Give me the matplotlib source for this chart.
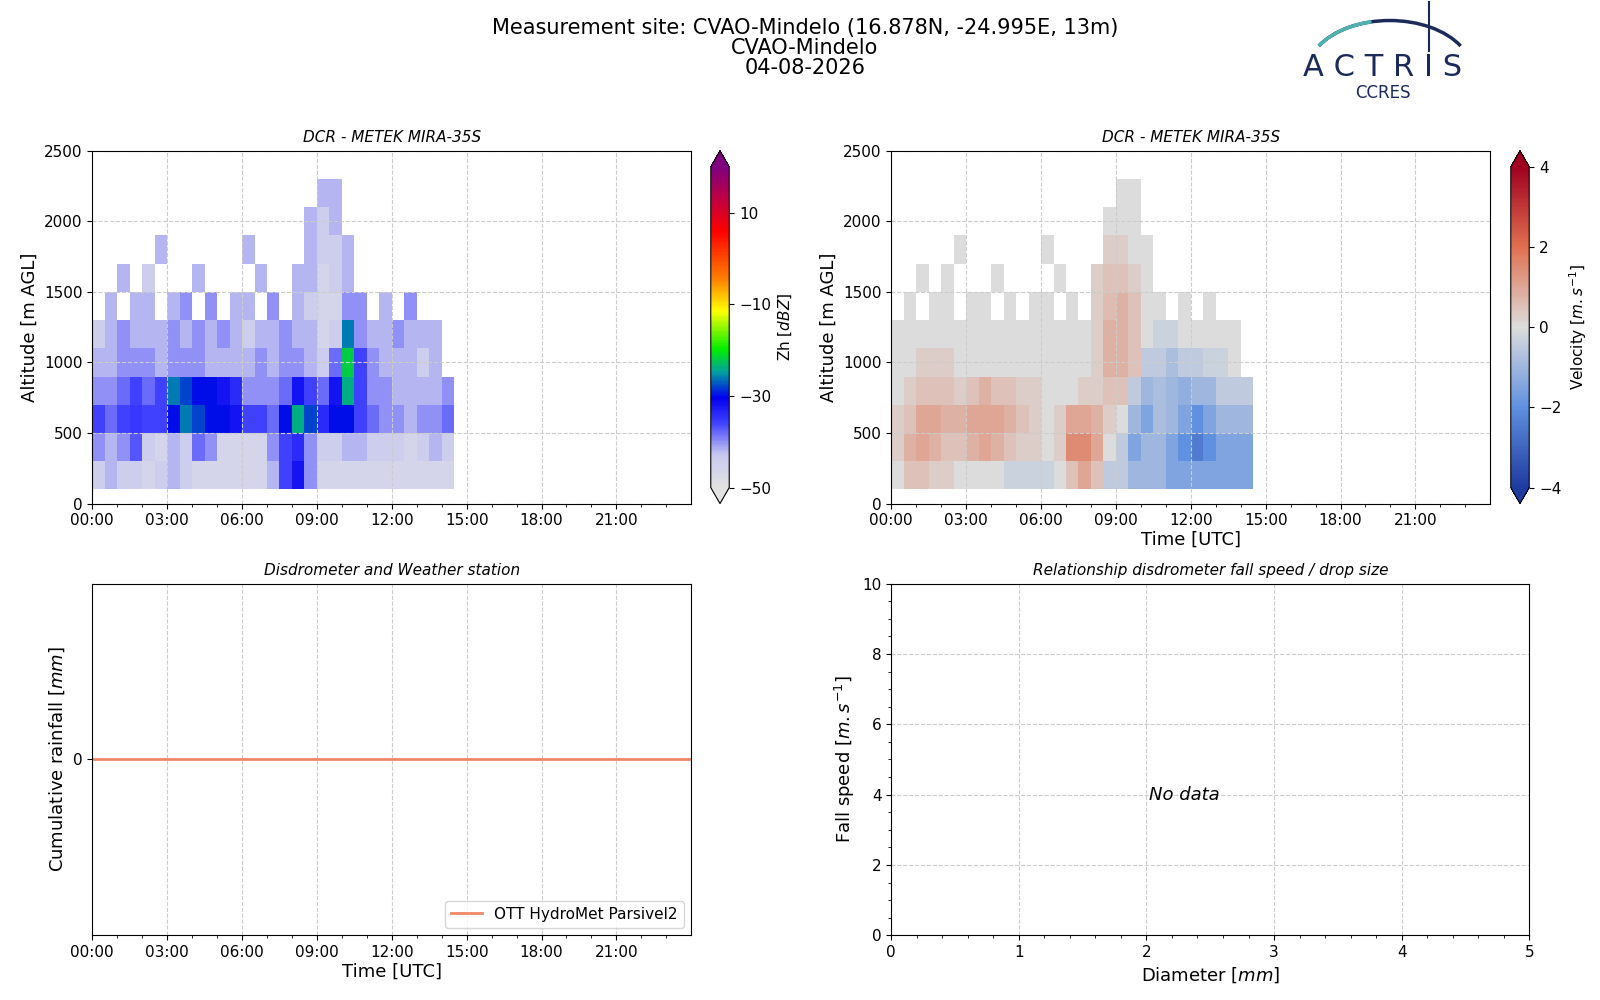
import numpy as np
import matplotlib.pyplot as plt
from matplotlib.colors import LinearSegmentedColormap
from matplotlib.patches import Arc

N = np.nan

# radar grid: 30 min time bins from 00:00 to 14:30, 200 m altitude bins 100..2500 m
time_edges = np.arange(0, 15.0, 0.5)
alt_edges = np.arange(100, 2600, 200)

zh = np.array([
    [-44, -42, -44, -44, -46, -44, -42, -44, -46, -46, -46, -46, -46, -46, -42, -36, -32, -40, -46, -46, -46, -46, -46, -46, -46, -46, -46, -46, -46],
    [-40, -42, -40, -37, -44, -46, -42, -44, -38, -40, -46, -46, -46, -46, -40, -36, -34, -40, -44, -44, -42, -42, -44, -44, -44, -46, -44, -42, -44],
    [-36, -38, -36, -35, -36, -36, -30, -26, -28, -30, -30, -32, -36, -36, -38, -30, -24, -28, -34, -30, -30, -36, -38, -40, -40, -42, -40, -40, -38],
    [-40, -40, -38, -36, -38, -36, -26, -28, -30, -30, -32, -34, -40, -40, -40, -38, -32, -36, -38, -32, -24, -36, -40, -40, -42, -42, -42, -42, -40],
    [-42, -42, -40, -40, -40, -42, -40, -40, -40, -42, -42, -42, -42, -40, -42, -40, -40, -42, -44, -38, -22, -36, -40, -42, -42, -42, -44, -42, N],
    [-44, -42, -40, -42, -42, -42, -40, -42, -40, -42, -40, -42, -44, -42, -42, -40, -42, -42, -46, -44, -26, -40, -42, -42, -40, -42, -42, -42, N],
    [N, -42, N, -42, -42, N, -42, -40, N, -40, N, -42, -42, N, -40, N, -42, -44, -46, -46, -40, -40, N, -42, N, -40, N, N, N],
    [N, N, -42, N, -44, N, N, N, -42, N, N, N, N, -42, N, N, -42, -42, -46, -44, -42, N, N, N, N, N, N, N, N],
    [N, N, N, N, N, -42, N, N, N, N, N, N, -42, N, N, N, N, -42, -44, -44, -42, N, N, N, N, N, N, N, N],
    [N, N, N, N, N, N, N, N, N, N, N, N, N, N, N, N, N, -42, -44, -42, N, N, N, N, N, N, N, N, N],
    [N, N, N, N, N, N, N, N, N, N, N, N, N, N, N, N, N, N, -42, -42, N, N, N, N, N, N, N, N, N],
    [N, N, N, N, N, N, N, N, N, N, N, N, N, N, N, N, N, N, N, N, N, N, N, N, N, N, N, N, N],
])

vel = np.array([
    [0, 0.5, 0.5, 0.3, 0.3, 0, 0, 0, 0, -0.3, -0.3, -0.3, -0.3, 0, 0.5, 1, 0.5, -0.5, -0.5, -1, -1, -1, -1.5, -1.5, -1.5, -1.5, -1.5, -1.5, -1.5],
    [0.3, 0.8, 1, 0.8, 0.5, 0.5, 0.8, 1, 0.8, 0.5, 0.3, 0.3, 0, 0.3, 1.5, 1.5, 1, 0, -0.5, -1.5, -1, -1, -1.5, -2, -2.5, -2, -1.5, -1.5, -1.5],
    [0.3, 0.5, 1, 1, 0.8, 0.8, 1, 1, 1, 0.8, 0.5, 0.3, 0, 0.3, 1, 1, 0.8, 0.3, 0, -1, -1.5, -0.8, -1, -1.5, -2, -1.5, -1, -1, -1],
    [0, 0.3, 0.5, 0.5, 0.5, 0.3, 0.5, 0.8, 0.5, 0.5, 0.3, 0.3, 0, 0, 0, 0.3, 0.3, 0.5, 0.5, -0.5, -1, -0.8, -1, -1.2, -1, -1, -0.5, -0.5, -0.5],
    [0, 0, 0.3, 0.3, 0.3, 0, 0, 0, 0, 0, 0, 0, 0, 0, 0, 0, 0.3, 0.8, 0.8, 0.5, -0.5, -0.5, -0.8, -0.5, -0.5, -0.3, -0.3, 0, 0],
    [0, 0, 0, 0, 0, 0, 0, 0, 0, 0, 0, 0, 0, 0, 0, 0, 0.3, 0.8, 0.8, 0.5, 0, -0.3, -0.3, 0, 0, 0, 0, 0, 0],
    [0, 0, 0, 0, 0, 0, 0, 0, 0, 0, 0, 0, 0, 0, 0, 0, 0.3, 0.6, 0.8, 0.5, 0, 0, 0, 0, 0, 0, 0, 0, 0],
    [0, 0, 0, 0, 0, 0, 0, 0, 0, 0, 0, 0, 0, 0, 0, 0, 0.3, 0.5, 0.5, 0.3, 0, 0, 0, 0, 0, 0, 0, 0, 0],
    [0, 0, 0, 0, 0, 0, 0, 0, 0, 0, 0, 0, 0, 0, 0, 0, 0, 0.3, 0.3, 0, 0, 0, 0, 0, 0, 0, 0, 0, 0],
    [0, 0, 0, 0, 0, 0, 0, 0, 0, 0, 0, 0, 0, 0, 0, 0, 0, 0, 0, 0, 0, 0, 0, 0, 0, 0, 0, 0, 0],
    [0, 0, 0, 0, 0, 0, 0, 0, 0, 0, 0, 0, 0, 0, 0, 0, 0, 0, 0, 0, 0, 0, 0, 0, 0, 0, 0, 0, 0],
    [0, 0, 0, 0, 0, 0, 0, 0, 0, 0, 0, 0, 0, 0, 0, 0, 0, 0, 0, 0, 0, 0, 0, 0, 0, 0, 0, 0, 0],
], dtype=float)
vel[np.isnan(zh)] = np.nan

rain_hours = [0, 24]
rain_cum = [0, 0]

hour_ticks = np.arange(0, 24, 3)
hour_labels = [f"{h:02d}:00" for h in hour_ticks]

zh_cmap = LinearSegmentedColormap.from_list("zh", [
    (0.0, "#e2e2e2"), (0.1, "#c8c8f0"), (0.2, "#4040ff"), (0.28, "#0000ee"),
    (0.36, "#00a0a0"), (0.43, "#00ee00"),
    (0.55, "#ffff00"), (0.65, "#ff8000"), (0.8, "#ff0000"), (1.0, "#800080")])
zh_cmap.set_over("#800080")
zh_cmap.set_under("#e2e2e2")
vel_cmap = LinearSegmentedColormap.from_list("v", ["#1f3ba0", "#6090e0", "#dddddd", "#e07050", "#a00020"])

plt.rcParams["xtick.labelsize"] = 11
plt.rcParams["ytick.labelsize"] = 11

fig = plt.figure(figsize=(16, 10), dpi=100)
W, H = 1560, 975


def box(x0, y0, x1, y1):
    return [x0 / W, 1 - y1 / H, (x1 - x0) / W, (y1 - y0) / H]


def style_time(ax):
    ax.set_xlim(0, 24)
    ax.set_xticks(hour_ticks)
    ax.set_xticklabels(hour_labels)
    ax.set_xticks(np.arange(0, 24, 1), minor=True)
    ax.grid(True, ls="--", color="#cccccc", lw=0.8)


ax1 = fig.add_axes(box(90, 147, 674, 491))
m1 = ax1.pcolormesh(time_edges, alt_edges, zh, cmap=zh_cmap, vmin=-50, vmax=20)
style_time(ax1)
ax1.set_ylim(0, 2500)
ax1.set_ylabel("Altitude [m AGL]", fontsize=13)
ax1.set_title("DCR - METEK MIRA-35S", style="italic", fontsize=11)
cax1 = fig.add_axes(box(693, 147, 711, 491))
cb1 = fig.colorbar(m1, cax=cax1, extend="both", ticks=[-50, -30, -10, 10])
cb1.set_label("Zh [$dBZ$]", fontsize=11)

ax2 = fig.add_axes(box(869, 147, 1453, 491))
m2 = ax2.pcolormesh(time_edges, alt_edges, vel, cmap=vel_cmap, vmin=-4, vmax=4)
style_time(ax2)
ax2.set_ylim(0, 2500)
ax2.set_ylabel("Altitude [m AGL]", fontsize=13)
ax2.set_xlabel("Time [UTC]", fontsize=13, labelpad=2)
ax2.set_title("DCR - METEK MIRA-35S", style="italic", fontsize=11)
cax2 = fig.add_axes(box(1473, 147, 1491, 491))
cb2 = fig.colorbar(m2, cax=cax2, extend="both", ticks=[-4, -2, 0, 2, 4])
cb2.set_label("Velocity [$m.s^{-1}$]", fontsize=11)

ax3 = fig.add_axes(box(90, 569, 674, 912))
ax3.plot(rain_hours, rain_cum, color="#ee8866", lw=2, label="OTT HydroMet Parsivel2")
style_time(ax3)
ax3.set_ylim(-1, 1)
ax3.set_yticks([0])
ax3.set_ylabel("Cumulative rainfall [$mm$]", fontsize=13)
ax3.set_xlabel("Time [UTC]", fontsize=13, labelpad=2)
ax3.set_title("Disdrometer and Weather station", style="italic", fontsize=11)
ax3.legend(loc="lower right", fontsize=11)

ax4 = fig.add_axes(box(869, 569, 1491, 912))
ax4.set_xlim(0, 5)
ax4.set_ylim(0, 10)
ax4.minorticks_on()
ax4.grid(True, ls="--", color="#cccccc", lw=0.8)
ax4.text(2.3, 4, "No data", style="italic", fontsize=13, ha="center", va="center")
ax4.set_xlabel("Diameter [$mm$]", fontsize=13)
ax4.set_ylabel("Fall speed [$m.s^{-1}$]", fontsize=13)
ax4.set_title("Relationship disdrometer fall speed / drop size", style="italic", fontsize=11)

fig.text(0.503, 0.982, "Measurement site: CVAO-Mindelo (16.878N, -24.995E, 13m)\nCVAO-Mindelo\n04-08-2026",
         ha="center", va="top", fontsize=15, linespacing=1.0)

# logo
lax = fig.add_axes(box(1265, 0, 1435, 105))
lax.set_xlim(0, 170)
lax.set_ylim(105, 0)
lax.axis("off")
lax.add_patch(Arc((90, 70), 160, 100, theta1=200, theta2=340, color="#1b2a5a", lw=2.5))
lax.add_patch(Arc((90, 70), 160, 100, theta1=200, theta2=250, color="#4fb3b0", lw=2.5))
lax.plot([128, 128], [2, 50], color="#1b2a5a", lw=1.5)
lax.text(83, 66, "A C T R I S", ha="center", va="center", fontsize=22, color="#1b2a5a")
lax.text(83, 91, "CCRES", ha="center", va="center", fontsize=12, color="#1b2a5a")

fig.savefig("out.png")
